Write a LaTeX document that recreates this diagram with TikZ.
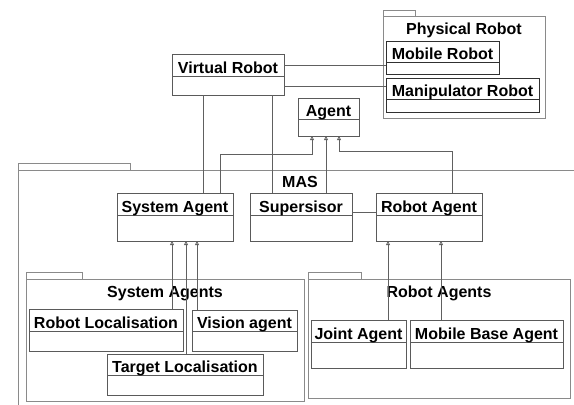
\documentclass[tikz,border=0pt]{standalone}
\usepackage{fontspec}
\setmainfont{Liberation Sans}
\usetikzlibrary{arrows.meta}
\definecolor{pkgc}{HTML}{8A8A8A}
\definecolor{clsc}{HTML}{5A5A5A}
\definecolor{darkc}{HTML}{303030}
\definecolor{linec}{HTML}{606060}
\tikzset{
  pkgbox/.style={draw=pkgc, line width=0.8pt, inner sep=0pt, outer sep=0pt, anchor=north west},
  clsbox/.style={draw=clsc, line width=0.8pt, inner sep=0pt, outer sep=0pt, anchor=north west},
  clsline/.style={draw=clsc, line width=0.8pt},
  darkbox/.style={draw=darkc},
  darkline/.style={draw=darkc},
  cttl/.style={font=\bfseries\fontsize{16}{18}\selectfont, anchor=base, inner sep=0pt},
  conn/.style={draw=linec, line width=0.8pt},
  gen/.style={conn, -{Triangle[open,length=4pt,width=4pt]}},
}
% [box style]{name}{x1}{y1}{x2}{y2}{divider y}{text}
\newcommand\umlcls[8][]{%
  \node[clsbox,#1,minimum width={(#5-#3)*1pt},minimum height={(#6-#4)*1pt}] (#2) at (#3,#4) {};
  \draw[clsline,#1] (#2.west |- 0,#7) -- (#2.east |- 0,#7);
  \node[cttl] (#2-t) at ({(#3+#5)/2},{#7-3}) {#8};
}
% {name}{x1}{y1}{x2}{y2}{tab right x}{tab top y}
\newcommand\umlpkg[7]{%
  \node[pkgbox,minimum width={(#6-#2)*1pt},minimum height={(#3-#7)*1pt}] (#1-tab) at (#2,#7) {};
  \node[pkgbox,minimum width={(#4-#2)*1pt},minimum height={(#5-#3)*1pt}] (#1) at (#2,#3) {};
}
\begin{document}
\begin{tikzpicture}[x=1pt,y=-1pt]
\useasboundingbox (0,0) rectangle (574,405);
\clip (0,0) rectangle (574,405);
\fill[white] (0,0) rectangle (574,405);

% packages
\umlpkg{prpkg}{383}{16}{545}{118}{415}{10}
\node[cttl] (prpkg-t) at (464,34) {Physical Robot};
\umlpkg{mas}{18}{170}{620}{440}{130}{163}
\node[cttl] (mas-t) at (300,187) {MAS};
\umlpkg{sapkg}{26}{279}{304}{401}{82}{272}
\node[cttl] (sapkg-t) at (165,297) {System Agents};
\umlpkg{rapkg}{308}{279}{570}{398}{361}{272}
\node[cttl] (rapkg-t) at (439,297) {Robot Agents};

% classes
\umlcls{vr}{172}{54}{284}{95}{76}{Virtual Robot}
\umlcls[darkbox]{mr}{386}{41}{499}{74}{62}{Mobile Robot}
\umlcls[darkbox]{man}{386}{78}{539}{112}{99}{Manipulator Robot}
\umlcls{ag}{298}{98}{359}{136}{119}{Agent}
\umlcls{sa}{117}{193}{233}{241}{215}{System Agent}
\umlcls{sup}{250}{193}{352}{241}{215}{Supersisor}
\umlcls{ra}{376}{193}{482}{241}{215}{Robot Agent}
\umlcls{rl}{29}{309}{183}{351}{331}{Robot Localisation}
\umlcls{va}{192}{310}{297}{351}{331}{Vision agent}
\umlcls{tl}{107}{354}{263}{395}{375}{Target Localisation}
\umlcls{ja}{311}{320}{406}{368}{342}{Joint Agent}
\umlcls{mba}{410}{320}{563}{368}{342}{Mobile Base Agent}

% associations
\draw[conn] (vr.east |- 0,65) -- (mr.west |- 0,65);
\draw[conn] (vr.east |- 0,86) -- (man.west |- 0,86);
\draw[conn] (vr.south -| 203,0) -- (sa.north -| 203,0);
\draw[conn] (vr.south -| 272,0) -- (sup.north -| 272,0);
\draw[conn] (sup.east |- 0,212) -- (ra.west |- 0,212);

% generalisations
\draw[gen] (sa.north -| 220,0) |- (312,154) -- (ag.south -| 312,0);
\draw[gen] (sup.north -| 326,0) -- (ag.south -| 326,0);
\draw[gen] (ra.north -| 452,0) |- (339,151) -- (ag.south -| 339,0);
\draw[gen] (rl.north -| 172,0) -- (sa.south -| 172,0);
\draw[gen] (tl.north -| 186,0) -- (sa.south -| 186,0);
\draw[gen] (va.north -| 197,0) -- (sa.south -| 197,0);
\draw[gen] (ja.north -| 388,0) -- (ra.south -| 388,0);
\draw[gen] (mba.north -| 441,0) -- (ra.south -| 441,0);
\end{tikzpicture}
\end{document}
